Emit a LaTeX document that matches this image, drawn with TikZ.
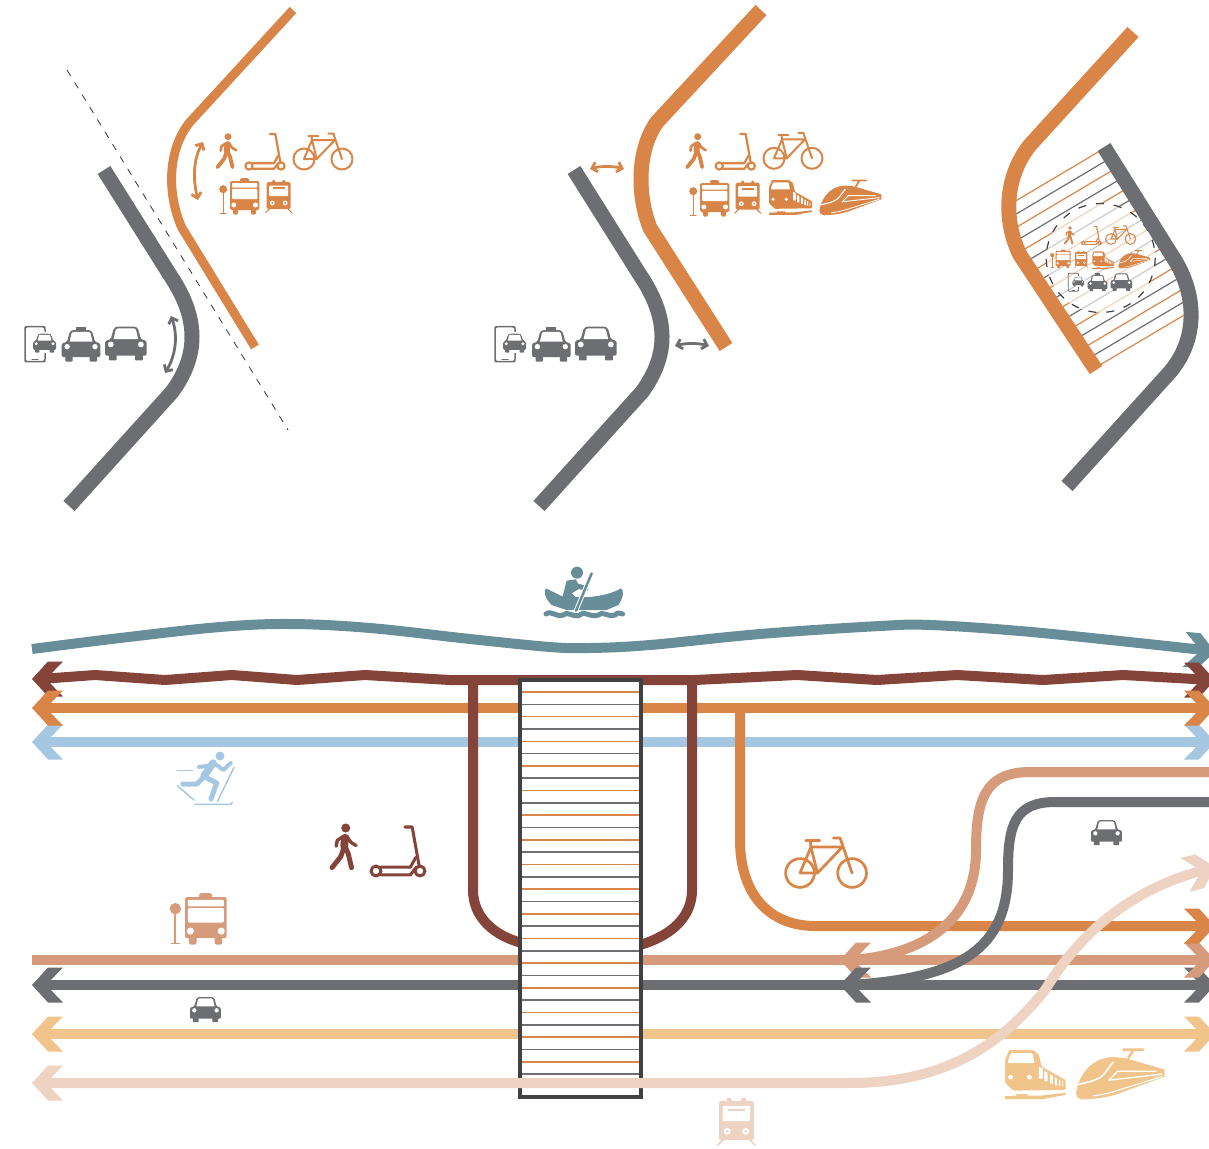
\documentclass[tikz,border=0pt]{standalone}
\usetikzlibrary{arrows.meta}
\definecolor{cOr}{HTML}{D98547}
\definecolor{cGr}{HTML}{6D6E71}
\definecolor{cMa}{HTML}{84443A}
\definecolor{cPe}{HTML}{D69B7A}
\definecolor{cLi}{HTML}{EED3C3}
\definecolor{cTa}{HTML}{F0C48A}
\definecolor{cBl}{HTML}{A5C7E2}
\definecolor{cTe}{HTML}{688F99}
\definecolor{cDk}{HTML}{414042}
\tikzset{
 il/.style={line width=#1*\ils pt,line cap=round,line join=round},
 road/.style={line width=#1,line cap=butt,line join=round},
 dbl/.style={line width=2.8pt,{Straight Barb[length=5pt,width=10pt]}-{Straight Barb[length=5pt,width=10pt]}},
}
\newcommand{\icon}[5]{\begin{scope}[shift={(#2,#3)},scale=#4]\colorlet{ic}{#5}\def\ils{#4}\pgfmathsetmacro\rA{1.5*#4}\pgfmathsetmacro\rB{0.8*#4}\csname ic#1\endcsname\end{scope}}
\newcommand{\chev}[4]{\fill[#4,shift={(#1,#2)},rotate=#3] (0,0)--(16,-17.5)--(31,-17.5)--(14,0)--(31,17.5)--(16,17.5)--cycle;}
% walker: origin head centre
\newcommand{\icwalk}{%
 \fill[ic] (0,0) circle (3.5);
 \draw[ic,il=6] (-0.5,7.5)--(-1.2,14);
 \draw[ic,il=2.6] (-2,6.5)--(-6.5,9.5)--(-7.3,14);
 \draw[ic,il=2.6] (1,6.5)--(4,11)--(8,13.5);
 \draw[ic,il=3.8] (-1,14)--(-3.8,22)--(-10.5,30.5);
 \draw[ic,il=3.8] (-0.5,14)--(2,20)--(4.5,30.5);
}
% scooter: origin rear wheel centre
\newcommand{\icscoot}{%
 \draw[ic,il=2.2] (0,0) circle (3.6);
 \draw[ic,il=2.2] (32,0) circle (3.6);
 \draw[ic,il=2.2] (3.5,-2.8)--(25,-2.8)--(29,-10);
 \draw[ic,il=2.2] (3.5,2.8)--(25,2.8)--(29.5,-3);
 \draw[ic,il=2.2] (31.5,-3)--(26.3,-32)--(21,-32);
}
% bike: origin rear hub
\newcommand{\icbike}{%
 \draw[ic,il=2] (0,0) circle (10.5);
 \draw[ic,il=2] (38,0) circle (10.5);
 \draw[ic,il=2] (0,0)--(8,-19)--(12.7,0)--cycle;
 \draw[ic,il=2] (8,-19)--(31,-19)--(12.7,0);
 \draw[ic,il=2] (38,0)--(29.3,-25.5)--(24.3,-25.5);
 \draw[ic,il=2] (4.3,-23.5)--(14.3,-23.5);
 \draw[ic,il=2] (7.5,-23)--(8,-19);
}
% bus: origin top-left of body, stop included
\newcommand{\icbus}{\icbusbody
 \fill[ic] (-6.8,8.2) circle (4);
 \draw[ic,il=1.3] (-6.8,10)--(-6.8,32.5);
 \draw[ic,il=1.3] (-9.5,32.7)--(-4,32.7);
}
\newcommand{\icbusbody}{%
 \fill[ic,rounded corners=\rA pt] (10,-2.8) rectangle (19,2);
 \fill[ic,rounded corners=\rA pt] (2.8,26) rectangle (8.2,33.5);
 \fill[ic,rounded corners=\rA pt] (20.8,26) rectangle (26.2,33.5);
 \fill[ic,rounded corners=\rA pt] (0,0) rectangle (29.3,29);
 \fill[white,rounded corners=\rB pt] (2,2) rectangle (27.3,6.6);
 \fill[white,rounded corners=\rB pt] (2,7.8) rectangle (27.3,18);
 \fill[white] (3.8,24) circle (2.5) (25.5,24) circle (2.5);
}
% tram
\newcommand{\ictram}{%
 \fill[ic] (7,1.5) circle (1.8) (17,1.5) circle (1.8);
 \fill[ic,rounded corners=\rA pt] (0,2) rectangle (24,29);
 \fill[white,rounded corners=\rB pt] (2.5,5.5) rectangle (21.5,16);
 \fill[ic] (6,7.3) rectangle (18,8.8);
 \fill[white] (5.6,23) circle (2.4) (18.4,23) circle (2.4);
 \fill[ic] (5.6,23) circle (1) (18.4,23) circle (1);
 \draw[ic,il=1.1] (3,28.5)--(-1,32.5) (21,28.5)--(25,32.5);
}
% train
\newcommand{\ictrain}{%
 \fill[ic,rounded corners=\rB pt] (3,.7)--(20,.7)--(24,4)--(26,12.5)--(43,22)--(43,29)--(6,29.5)--(0,24)--(0,8)--cycle;
 \fill[white,rounded corners=\rB pt] (4,3)--(19.5,3)--(21,10)--(1.7,10)--cycle;
 \fill[white] (4,20) circle (1.7) (17.3,20) circle (1.7);
 \fill[white] (24.1,12.5)--(26.9,14)--(26.9,21)--(24.1,21)--cycle
  (28,15.5)--(30.3,17)--(30.3,23)--(28,23)--cycle
  (32,18)--(33.9,19)--(33.9,24.5)--(32,24.5)--cycle
  (35.4,20)--(36.8,21)--(36.8,25.8)--(35.4,25.8)--cycle
  (38.2,21.5)--(39.2,22)--(39.2,26.2)--(38.2,26.2)--cycle
  (40.6,22.4)--(41.3,22.8)--(41.3,26.5)--(40.6,26.5)--cycle;
 \fill[ic] (0,33.5)--(8,33)--(8,32)--(16,32)--(16,33)--(26,33)--(43,31)--(43,32.5)--(27,35.5)--(0,35.5)--cycle;
}
% high speed train
\newcommand{\ichsr}{%
 \fill[ic] (0,31.5) .. controls (1,24) and (7,7) .. (26,6.3) -- (34,7) -- (62,15) -- (62,20) -- (28,32.5) .. controls (20,35) and (12,35.5) .. (5,36) .. controls (2,36) and (0,34) .. (0,31.5) -- cycle;
 \draw[ic,il=1.8] (36.6,7)--(40,1.6) (33,1.2)--(47,1.2);
 \draw[white,il=1.1] (26,10) .. controls (22,14) and (20,20) .. (14,22) .. controls (10,24) and (6,24) .. (1.8,25.6);
 \draw[white,il=0.9] (23,22.5)--(29,16.3)--(56,16.3);
 \draw[white,il=0.9] (23,22.5)--(60,18.3);
 \draw[white,il=0.8] (60,20)--(28,30) .. controls (22,32) and (16,33) .. (12,33.5);
}
% car
\newcommand{\iccar}{%
 \fill[ic,rounded corners=\rB pt] (4,27) rectangle (12,35);
 \fill[ic,rounded corners=\rB pt] (31,27) rectangle (39,35);
 \fill[ic,rounded corners=\rA pt] (0,30)--(0,15)--(6,13)--(9,2)--(12,0)--(31,0)--(34,2)--(37,13)--(43,15)--(43,30)--cycle;
 \fill[white] (8.8,13)--(11,3.5)--(13,2)--(30,2)--(32,3.5)--(34.2,13)--cycle;
 \fill[white] (6,18.5) circle (3) (37,18.5) circle (3);
}
\newcommand{\ictaxi}{\iccar
 \fill[ic] (16,-3.5) rectangle (27,1);
}
\newcommand{\icphone}{%
 \draw[ic,il=1.5,rounded corners=\rA pt] (20,6)--(20,1)--(19,0)--(1,0)--(0,1)--(0,34)--(1,35)--(19,35)--(20,34)--(20,24);
 \draw[ic,il=1.5] (7,33)--(13,33);
 \begin{scope}[shift={(8,7)},scale=0.54]
  \fill[white] (-4,-3) rectangle (47,36);
  \iccar
 \end{scope}
}
\newcommand{\hatchline}[2]{\draw[#1,line width=1.2pt] (1000,{#2+0.593*96}) -- (1210,{#2+0.593*96-0.593*210});}
\begin{document}
\begin{tikzpicture}[x=1pt,y=-1pt]
\useasboundingbox (0,0) rectangle (1209,1148);
\clip (0,0) rectangle (1209,1148);
% ---------- panel 1
\draw[black!80,line width=0.8pt,dash pattern=on 7pt off 7.5pt] (67,70)--(288,430);
\draw[cGr,road=15pt] (104,170)--(170,275) .. controls (199,318) and (199,355) .. (172,392)--(69,506);
\draw[cOr,road=9pt] (293,10)--(190,122) .. controls (167,150) and (167,195) .. (182,228)--(255,347);
\draw[cOr,dbl] (203,142) .. controls (193,160) and (193,180) .. (198,200);
\draw[cGr,dbl] (171,316) .. controls (178,335) and (176,355) .. (165,373);
\icon{walk}{228}{136.7}{1}{cOr}
\icon{scoot}{249}{166}{1}{cOr}
\icon{bike}{304}{159}{1}{cOr}
\icon{bus}{230}{181}{1}{cOr}
\icon{tram}{266.7}{180}{1}{cOr}
\icon{phone}{25}{326.7}{1}{cGr}
\icon{taxi}{61.7}{330}{0.9}{cGr}
\icon{car}{105}{326.5}{0.97}{cGr}
% ---------- panel 2
\draw[cGr,road=15pt] (574,170)--(640,275) .. controls (669,318) and (669,355) .. (642,392)--(539,506);
\draw[cOr,road=15pt] (761,10)--(657,122) .. controls (637,150) and (637,195) .. (650,228)--(726,347);
\draw[cOr,dbl] (590,169) .. controls (600,166) and (614,166) .. (624,169);
\draw[cGr,dbl] (675,346) .. controls (685,343) and (699,343) .. (709,346);
\icon{walk}{697.7}{136.7}{1}{cOr}
\icon{scoot}{719.3}{166}{1}{cOr}
\icon{bike}{774}{158.3}{1}{cOr}
\icon{bus}{700}{183}{1}{cOr}
\icon{tram}{735.7}{180.7}{1}{cOr}
\icon{train}{769}{179.3}{1}{cOr}
\icon{hsr}{819.3}{179.3}{1}{cOr}
\icon{phone}{495}{326.7}{1}{cGr}
\icon{taxi}{532}{330}{0.9}{cGr}
\icon{car}{575}{326.5}{0.97}{cGr}
% ---------- panel 3
\begin{scope}
 \clip (1096,370)--(1020,255) .. controls (1003.7,222) and (1003.7,178) .. (1030,145)--(1104,147)--(1176,262) .. controls (1197,298) and (1197,340) .. (1170,372)--cycle;
 \foreach \k in {0,...,8}{
  \pgfmathsetmacro\yy{153.3+26.75*\k}
  \hatchline{cOr}{\yy}
  \ifnum\k<8
   \pgfmathsetmacro\yz{\yy+13.4}
   \hatchline{cGr}{\yz}
  \fi
 }
\end{scope}
\fill[white,opacity=0.65] (1100.7,258) circle (54.5);
\draw[cDk,line width=1.2pt,dash pattern=on 8pt off 10pt] (1100.7,258) circle (54.5);
\draw[cOr,road=15pt] (1133,32)--(1030,145) .. controls (1003.7,178) and (1003.7,222) .. (1020,255)--(1096,370);
\draw[cGr,road=15pt] (1104,147)--(1176,262) .. controls (1197,298) and (1197,340) .. (1170,372)--(1067,486);
\icon{walk}{1070}{228}{0.51}{cOr}
\icon{scoot}{1083.3}{243}{0.51}{cOr}
\icon{bike}{1111}{239}{0.51}{cOr}
\icon{bus}{1055.7}{251}{0.51}{cOr}
\icon{tram}{1075}{251}{0.51}{cOr}
\icon{train}{1092.3}{251}{0.51}{cOr}
\icon{hsr}{1118.3}{250}{0.51}{cOr}
\icon{phone}{1068.3}{273.3}{0.51}{cGr}
\icon{taxi}{1087.7}{275}{0.46}{cGr}
\icon{car}{1110.7}{273.3}{0.5}{cGr}
% ---------- network: upper
\draw[cTe,road=10pt] plot[smooth,tension=0.6] coordinates {(32,649) (120,638) (220,627) (290,624) (370,628) (470,639) (550,647) (590,648) (650,645) (760,634) (880,626) (930,625) (1020,631) (1120,641) (1212,651)};
\chev{1215}{652}{175}{cTe}
\draw[cBl,road=10pt] (40,742)--(1212,742);
\chev{32}{742}{0}{cBl}
\chev{1215}{742}{180}{cBl}
\chev{32}{679}{0}{cMa}
\chev{1215}{680}{180}{cMa}
\draw[cOr,road=10pt] (40,708)--(1212,708);
\chev{32}{708}{0}{cOr}
\chev{1215}{708}{180}{cOr}
\draw[cMa,road=10pt] (40,679)--(95,675)--(165,680)--(232,675)--(297,680)--(365,675)--(450,680)--(695,680)--(797,675)--(877,680)--(957,675)--(1043,680)--(1123,675)--(1212,680);
\draw[cMa,road=10pt] (473,680)--(473,890) .. controls (473,918) and (495,936) .. (522,943);
\draw[cMa,road=10pt] (692,680)--(692,890) .. controls (692,918) and (670,936) .. (640,945);
\draw[cOr,road=10pt] (740,708)--(740,840) .. controls (740,895) and (770,926) .. (815,926)--(1212,926);
\chev{1215}{985}{180}{cGr}
\chev{1215}{960}{180}{cPe}
\chev{1215}{926}{180}{cOr}
% ---------- lower lines
\chev{840}{960}{0}{cPe}
\draw[cPe,road=10pt] (32,960)--(1212,960);
\draw[cGr,road=10pt] (40,985)--(1212,985);
\chev{32}{985}{0}{cGr}
\draw[cTa,road=10pt] (40,1034)--(1212,1034);
\chev{32}{1034}{0}{cTa}
\chev{1215}{1034}{180}{cTa}
\draw[cPe,road=10pt] (1209,772)--(1030,772) .. controls (985,772) and (976,800) .. (976,850) .. controls (976,920) and (925,955) .. (850,960);
\chev{840}{985}{0}{cGr}
\draw[cGr,road=10pt] (1209,802)--(1055,802) .. controls (1015,802) and (1008,825) .. (1008,870) .. controls (1008,950) and (960,978) .. (850,985);
% ---------- bridge
\fill[white] (520,680) rectangle (641,1097);
\foreach \k in {0,...,15}{
 \pgfmathsetmacro\yy{692+24.65*\k}
 \draw[cOr,line width=1.6pt] (520,\yy)--(641,\yy);
 \pgfmathsetmacro\yz{\yy+12.3}
 \draw[cGr,line width=1.6pt] (520,\yz)--(641,\yz);
}
\draw[cDk,line width=3.5pt] (520,680) rectangle (641,1097);
\draw[cLi,road=10pt] (40,1083)--(850,1083) .. controls (950,1083) and (1005,1040) .. (1045,990) .. controls (1085,925) and (1140,885) .. (1212,868);
\chev{32}{1083}{0}{cLi}
\chev{1215}{867}{195}{cLi}
% ---------- bottom icons
\icon{walk}{345.7}{828}{1.3}{cMa}
\icon{scoot}{376}{871}{1.375}{cMa}
\icon{bike}{800}{873}{1.37}{cOr}
\icon{bus}{185}{897}{1.42}{cPe}
\icon{car}{190}{997}{0.72}{cGr}
\icon{car}{1091}{820}{0.72}{cGr}
\icon{tram}{719}{1098}{1.45}{cLi}
\icon{train}{1005}{1049}{1.41}{cTa}
\icon{hsr}{1076}{1048}{1.43}{cTa}
% skier
\begin{scope}[cBl,line cap=round,line join=round]
 \fill (220,756) circle (4.5);
 \draw[line width=7.5pt] (213,763)--(204,776);
 \draw[line width=4pt] (213,765)--(199,767);
 \draw[line width=4pt] (216.7,765)--(223.3,770)--(230.7,763);
 \draw[line width=5pt] (204,777)--(196.7,784)--(182.7,784);
 \draw[line width=5pt] (206.7,778)--(216.7,783)--(211,799);
 \draw[line width=1.5pt] (177.3,770.7)--(192.7,770.7);
 \draw[line width=1.5pt] (177.3,785.7)--(194,800);
 \draw[line width=1.5pt] (234,767.3)--(217.3,801.7);
 \draw[line width=1.5pt] (195,804.3)--(230.7,804.3)--(232.3,802.3);
\end{scope}
% canoe
\begin{scope}[shift={(450,560)},scale=1/3,cTe,line cap=round,line join=round]
 \fill (381,38) circle (18);
 \fill (350,62)--(378,58)--(390,85)--(365,100)--(385,120)--(335,120)--cycle;
 \draw[line width=5pt] (360,72)--(408,85);
 \fill (288,85) .. controls (300,90) and (320,102) .. (335,108) -- (395,112) .. controls (440,112) and (490,100) .. (513,85) .. controls (522,90) and (522,110) .. (505,135) -- (470,150) -- (350,150) -- (305,135) .. controls (285,115) and (280,95) .. (288,85) -- cycle;
 \draw[white,line width=4.5pt,line cap=butt] (425,40)--(378,152);
 \draw[line width=2.5pt] (425,40)--(378,152);
 \draw[line width=5pt] (288,162) .. controls (305,150) and (315,172) .. (340,165) .. controls (350,150) and (370,175) .. (390,165) .. controls (405,150) and (420,175) .. (445,165) .. controls (455,150) and (480,175) .. (495,165) .. controls (505,155) and (510,160) .. (518,162);
\end{scope}
\end{tikzpicture}
\end{document}
